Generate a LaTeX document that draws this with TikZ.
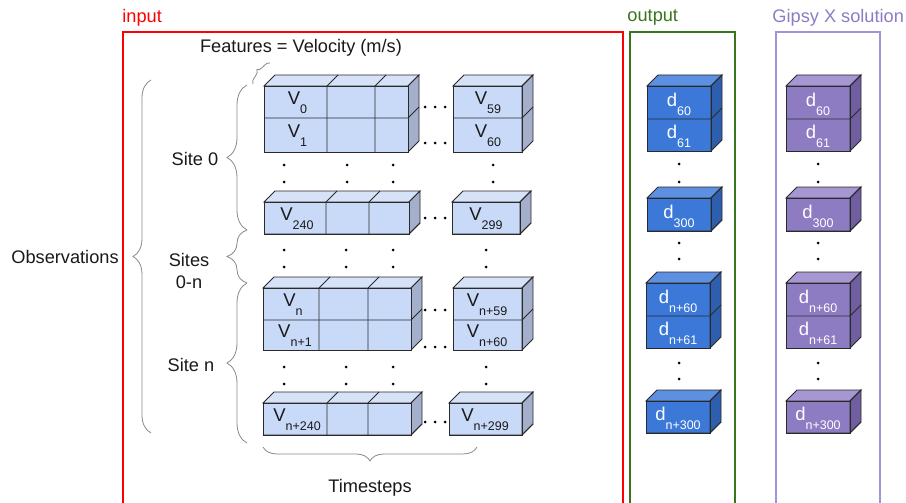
\documentclass[tikz,border=0pt]{standalone}
\usepackage{fontspec}
\setmainfont{Liberation Sans}
\usetikzlibrary{decorations.pathreplacing}

% cube colours: front / top / side
\definecolor{inF}{HTML}{C9DAF8}
\definecolor{inT}{HTML}{D6E2F8}
\definecolor{inS}{HTML}{A3AFCB}
\definecolor{outF}{HTML}{3C78D8}
\definecolor{outT}{HTML}{5E90E2}
\definecolor{outS}{HTML}{2E5FAF}
\definecolor{gxF}{HTML}{8E7CC3}
\definecolor{gxT}{HTML}{A697D2}
\definecolor{gxS}{HTML}{6F5FA0}
\definecolor{edgec}{HTML}{2A2A2A}
\definecolor{txt}{HTML}{1A1A1A}
\definecolor{bracec}{HTML}{8A8A8A}
\definecolor{inred}{HTML}{FF0000}
\definecolor{outgreen}{HTML}{38761D}
\definecolor{gxline}{HTML}{A192D9}
\definecolor{gxtext}{HTML}{8E7CC3}

\newcommand\dd{11}
% a block of cubes: x1, y1, x2, y2 (front face), inner x's, inner y's, colour prefix
\newcommand\prismblock[7]{%
  \filldraw[fill=#7T, draw=edgec] (#1,#2) -- ++(\dd,-\dd) -- ({#3+\dd},{#2-\dd}) -- (#3,#2) -- cycle;
  \filldraw[fill=#7S, draw=edgec] (#3,#2) -- ({#3+\dd},{#2-\dd}) -- ({#3+\dd},{#4-\dd}) -- (#3,#4) -- cycle;
  \filldraw[fill=#7F, draw=edgec] (#1,#2) rectangle (#3,#4);
  \foreach \xx in {#5} {\draw[edgec] (\xx,#2) -- (\xx,#4) (\xx,#2) -- ++(\dd,-\dd);}
  \foreach \yy in {#6} {\draw[edgec] (#1,\yy) -- (#3,\yy) -- ++(\dd,-\dd);}
}
% letter with a lowered index
\newcommand\sv[2]{{\fontsize{18.5}{18}\selectfont #1}\raisebox{-9pt}{\fontsize{12.5}{12}\selectfont #2}}

\begin{document}
\begin{tikzpicture}[x=1pt,y=-1pt,line width=0.9pt,
  lbl/.style={font=\fontsize{18.2}{22}\selectfont, text=txt, inner sep=0pt},
  cell/.style={inner sep=0pt, text=txt, xshift=2pt, yshift=-1pt},
  dcell/.style={inner sep=0pt, text=white, yshift=-1pt},
  brc/.style={decorate, decoration={brace, amplitude=#1}, draw=bracec, line width=0.8pt},
  brc/.default=19,
  dotm/.style={fill=black, draw=none}]

\clip (0,0) rectangle (906,503);
\fill[white] (0,0) rectangle (906,503);

% group frames
\draw[inred, line width=2pt] (123,520) -- (123,32) -- (623,32) -- (623,520);
\draw[outgreen, line width=2pt] (630,520) -- (630,32) -- (735,32) -- (735,520);
\draw[gxline, line width=2pt] (776,520) -- (776,32) -- (880,32) -- (880,520);
\node[lbl, text=inred, anchor=west] (tin) at (122,18) {input};
\node[lbl, text=outgreen, anchor=west] (tout) at (627,18) {output};
\node[lbl, text=gxtext, anchor=west] (tgx) at (772,18) {Gipsy X solution};

% input blocks
\prismblock{264}{86}{408}{152}{327,375}{118}{in}
\prismblock{453}{86}{522}{152}{522}{118}{in}
\prismblock{264}{202}{409}{234}{326,369}{234}{in}
\prismblock{452}{202}{520}{234}{520}{234}{in}
\prismblock{263}{288}{411}{350}{319,368}{320}{in}
\prismblock{453}{288}{522}{350}{522}{320}{in}
\prismblock{263}{403}{411}{435}{327,368}{435}{in}
\prismblock{449}{403}{522}{435}{522}{435}{in}

\node[cell] (v0) at (295.5,102) {\sv{V}{0}};
\node[cell] (v1) at (295.5,135) {\sv{V}{1}};
\node[cell] (v59) at (486,102) {\sv{V}{59}};
\node[cell] (v60) at (486,135) {\sv{V}{60}};
\node[cell] (v240) at (295,218) {\sv{V}{240}};
\node[cell] (v299) at (484,218) {\sv{V}{299}};
\node[cell] (vn) at (291,304) {\sv{V}{n}};
\node[cell] (vn1) at (293,335) {\sv{V}{n+1}};
\node[cell] (vn59) at (485,304) {\sv{V}{n+59}};
\node[cell] (vn60) at (485,335) {\sv{V}{n+60}};
\node[cell] (vn240) at (295,419) {\sv{V}{n+240}};
\node[cell] (vn299) at (483,419) {\sv{V}{n+299}};

% horizontal ellipses between blocks
\foreach \yy in {107,143,218,310,347,422}
  \foreach \xx in {425,435,445} \fill[dotm] (\xx,\yy) circle (1.5);
% vertical ellipses
\foreach \yy in {165,182} \foreach \xx in {284,347,393,493} \fill[dotm] (\xx,\yy) circle (1.5);
\foreach \yy in {250,267,367,384} \foreach \xx in {284,346,393,486} \fill[dotm] (\xx,\yy) circle (1.5);

% output blocks
\prismblock{647}{86}{711}{151}{711}{119}{out}
\prismblock{647}{198}{711}{231}{711}{231}{out}
\prismblock{646}{283}{710}{348}{710}{316}{out}
\prismblock{646}{401}{710}{433}{710}{433}{out}
\node[dcell] (o60) at (679,103) {\sv{d}{60}};
\node[dcell] (o61) at (679,135) {\sv{d}{61}};
\node[dcell] (o300) at (679,215) {\sv{d}{300}};
\node[dcell] (on60) at (678,300) {\sv{d}{n+60}};
\node[dcell] (on61) at (678,332) {\sv{d}{n+61}};
\node[dcell] (on300) at (678,417) {\sv{d}{n+300}};
\foreach \yy in {164,182,243,259,363,379} \fill[dotm] (679,\yy) circle (1.5);

% Gipsy X blocks
\prismblock{786}{86}{850}{151}{850}{119}{gx}
\prismblock{786}{198}{850}{231}{850}{231}{gx}
\prismblock{786}{283}{850}{348}{850}{316}{gx}
\prismblock{786}{401}{850}{433}{850}{433}{gx}
\node[dcell] (g60) at (818,103) {\sv{d}{60}};
\node[dcell] (g61) at (818,135) {\sv{d}{61}};
\node[dcell] (g300) at (818,215) {\sv{d}{300}};
\node[dcell] (gn60) at (818,300) {\sv{d}{n+60}};
\node[dcell] (gn61) at (818,332) {\sv{d}{n+61}};
\node[dcell] (gn300) at (818,417) {\sv{d}{n+300}};
\foreach \yy in {164,182,243,259,363,379} \fill[dotm] (818,\yy) circle (1.5);

% braces and their labels
\coordinate (obsB) at (151,433); \coordinate (obsT) at (151,80);
\draw[brc=18] (obsB) -- (obsT);
\node[lbl] (obs) at (65,257) {Observations};

\coordinate (s0B) at (247,230); \coordinate (s0T) at (247,85);
\draw[brc=20] (s0B) -- (s0T);
\node[lbl] (site0) at (195,159) {Site 0};

\coordinate (snB) at (247,283);
\draw[brc=20] (snB) -- (s0B);
\node[lbl, align=center] (sites) at (189,271) {Sites\\0-n};

\coordinate (sbot) at (247,443);
\draw[brc=20] (sbot) -- (snB);
\node[lbl] (siten) at (191,365) {Site n};

\coordinate (tR) at (477,447); \coordinate (tL) at (263,447);
\draw[brc=14] (tR) -- (tL);
\node[lbl] (tsteps) at (370,488) {Timesteps};

\coordinate (fA) at (253,84); \coordinate (fB) at (270,63);
\draw[brc=6] (fA) -- (fB);
\node[lbl] (feat) at (301,48) {Features = Velocity (m/s)};

\end{tikzpicture}
\end{document}
